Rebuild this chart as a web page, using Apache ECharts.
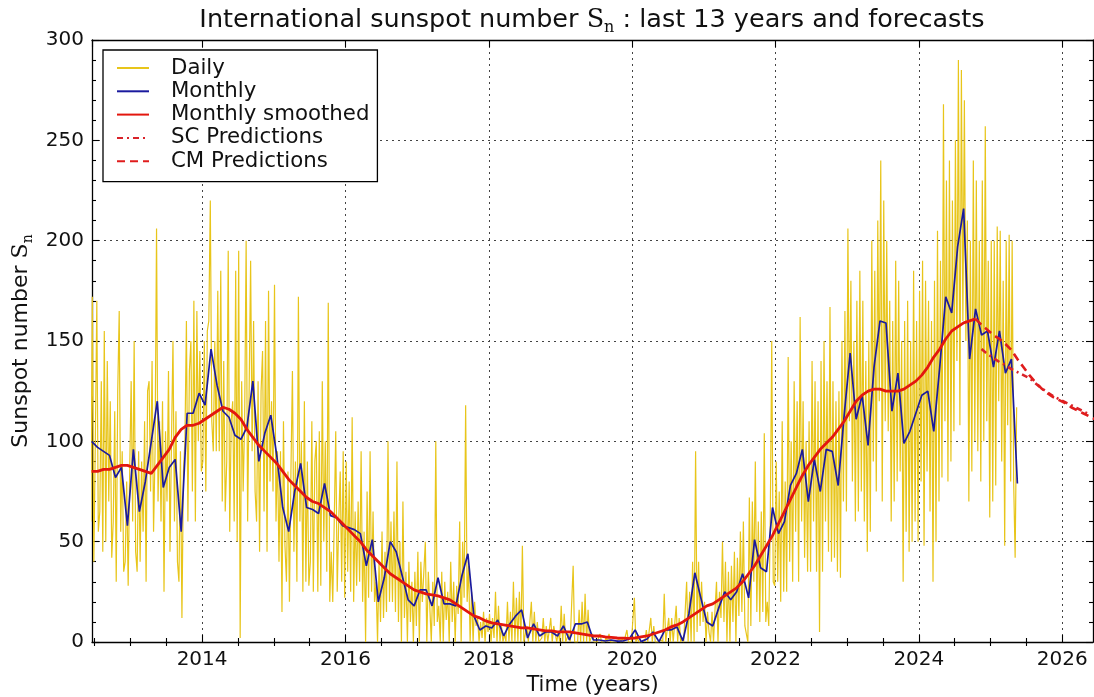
<!DOCTYPE html>
<html>
<head>
<meta charset="utf-8">
<script src="https://cdn.jsdelivr.net/npm/echarts@6/dist/echarts.min.js"></script>
<style>
  html, body { margin: 0; padding: 0; background: #fff; }
  #chart { width: 1094px; height: 697px; }
</style>
</head>
<body>
<div id="chart"></div>
<script>
// International sunspot number: daily, monthly mean, 13-month smoothed and forecasts.
// All series are indexed by month, starting June 2012.
const FIRST_YEAR = 2012;
const FIRST_MONTH = 6;

// Daily values, four samples per month (last month partial)
const dailyByMonth = [
  // 2012 Jun-Dec
  [148, 60, 172, 40], [100, 170, 55, 65], [130, 45, 155, 50], [140, 70, 120, 42],
  [60, 115, 30, 125], [165, 55, 95, 35], [40, 80, 28, 85],
  // 2013
  [130, 60, 150, 45], [35, 95, 40, 90], [55, 110, 30, 125], [130, 75, 140, 55],
  [95, 206, 70, 110], [60, 120, 25, 105], [70, 135, 45, 100], [150, 60, 115, 40],
  [30, 95, 12, 85], [100, 160, 60, 135], [150, 75, 170, 60], [165, 100, 145, 85],
  // 2014
  [90, 150, 75, 155], [160, 220, 110, 95], [150, 95, 175, 95], [185, 70, 140, 65],
  [90, 195, 55, 110], [120, 60, 185, 50], [195, 2, 130, 75], [110, 200, 60, 60],
  [190, 95, 160, 75], [60, 130, 45, 125], [145, 65, 160, 45], [175, 80, 120, 75],
  // 2015
  [178, 60, 95, 40], [95, 15, 110, 48], [30, 85, 20, 85], [135, 45, 90, 30],
  [172, 60, 100, 25], [120, 30, 90, 28], [40, 110, 25, 90], [100, 25, 105, 28],
  [130, 50, 100, 35], [169, 20, 45, 20], [60, 105, 25, 60], [85, 30, 95, 22],
  // 2016
  [90, 35, 80, 25], [112, 20, 65, 28], [70, 30, 95, 20], [55, 0, 75, 22],
  [95, 25, 65, 20], [30, 0, 40, 10], [55, 12, 45, 15], [100, 20, 60, 20],
  [65, 15, 90, 10], [50, 0, 70, 12], [35, 0, 40, 10], [30, 0, 35, 8],
  // 2017
  [45, 0, 40, 20], [20, 50, 0, 35], [35, 0, 30, 8], [100, 10, 18, 0],
  [35, 0, 30, 11], [25, 0, 40, 10], [30, 0, 28, 14], [60, 0, 50, 22],
  [118, 20, 38, 0], [25, 0, 20, 8], [12, 0, 10, 2], [15, 0, 12, 5],
  // 2018
  [14, 0, 12, 2], [25, 0, 18, 0], [8, 0, 4, 0], [20, 0, 15, 0],
  [30, 0, 22, 0], [25, 0, 48, 0], [0, 8, 0, 0], [20, 0, 15, 0],
  [10, 0, 0, 2], [12, 0, 8, 0], [0, 12, 0, 8], [8, 0, 5, 0],
  // 2019
  [18, 0, 14, 0], [0, 4, 0, 0], [38, 0, 0, 0], [16, 0, 20, 0],
  [24, 0, 16, 0], [0, 4, 0, 0], [0, 0, 4, 0], [0, 0, 2, 0],
  [4, 0, 0, 0], [0, 0, 0, 2], [0, 2, 0, 0], [6, 0, 0, 0],
  // 2020
  [0, 22, 0, 2], [0, 0, 0, 1], [0, 6, 0, 0], [12, 0, 8, 0],
  [0, 0, 0, 1], [0, 24, 0, 0], [12, 0, 12, 0], [0, 18, 0, 12],
  [0, 2, 0, 0], [30, 0, 25, 0], [40, 0, 95, 5], [40, 8, 30, 10],
  // 2021
  [20, 0, 15, 5], [0, 15, 0, 16], [30, 0, 25, 12], [50, 10, 40, 0],
  [35, 0, 38, 10], [45, 0, 42, 13], [55, 15, 60, 8], [8, 0, 72, 8],
  [70, 30, 90, 15], [60, 10, 65, 15], [104, 10, 20, 8], [60, 150, 30, 28],
  // 2022
  [90, 30, 75, 20], [110, 25, 80, 25], [142, 40, 100, 30], [130, 55, 120, 30],
  [162, 60, 120, 42], [100, 35, 110, 35], [140, 60, 130, 35], [120, 5, 140, 35],
  [150, 60, 130, 45], [167, 40, 130, 42], [120, 35, 125, 32], [150, 70, 165, 65],
  // 2023
  [206, 110, 180, 80], [150, 60, 170, 65], [185, 75, 170, 60], [140, 45, 150, 55],
  [200, 90, 185, 75], [210, 120, 240, 70], [220, 110, 200, 105], [170, 60, 160, 70],
  [190, 80, 180, 85], [150, 30, 160, 55], [170, 45, 150, 50], [185, 60, 160, 50],
  // 2024
  [175, 80, 190, 48], [180, 85, 170, 65], [160, 30, 180, 50], [205, 70, 190, 82],
  [268, 110, 230, 80], [240, 90, 220, 105], [250, 140, 290, 108], [285, 160, 270, 150],
  [210, 70, 200, 85], [240, 100, 230, 95], [200, 80, 230, 100], [257, 110, 190, 62],
  // 2025 Jan-May
  [200, 70, 200, 78], [207, 120, 205, 90], [180, 48, 200, 108], [203, 80, 200, 80],
  [42, 117]
];

// Monthly mean values
const monthlyValues = [
  100, 97, 95, 93, 82, 87, 58,
  96, 65, 80, 100, 120, 77, 87, 91, 55, 114, 114, 124,
  118, 146, 128, 115, 112, 103, 101, 107, 130, 90, 104, 113,
  93, 67, 55, 75, 89, 67, 66, 64, 79, 63, 62, 58,
  57, 56, 54, 38, 51, 20, 32, 50, 45, 33, 21, 18,
  26, 26, 18, 32, 19, 19, 18, 33, 44, 13, 6, 8,
  7, 11, 3, 9, 13, 16, 2, 9, 3, 5, 5, 3,
  8, 1, 9, 9, 10, 1, 1, 0.5, 1, 0.4, 0.5, 1.5,
  6, 0.2, 1.5, 5, 0.2, 6, 6, 7.5, 0.6, 14, 34.5, 22,
  10, 8, 17, 25, 21, 25, 34, 22, 51, 37, 35, 67,
  54, 60, 78, 84, 96, 70, 91, 75, 96, 95, 78, 113,
  144, 111, 123, 98, 137, 160, 159, 115, 134, 99, 105, 114,
  123, 125, 105, 137, 172, 164, 197, 216, 141, 166, 153, 155,
  137, 155, 134, 141, 79
];

// 13-month smoothed values (June 2012 - October 2024)
const smoothedValues = [
  85, 85, 86, 86, 87, 88, 88,
  87, 86, 85, 84, 88, 92, 96, 102, 106, 108, 108, 109,
  111, 113, 115, 117, 116, 114, 111, 106, 102, 98, 95, 92,
  89, 85, 81, 78, 75, 72, 70, 69, 67, 65, 62, 59,
  56, 53, 50, 46, 43, 40, 37, 34, 32, 30, 28, 26,
  25, 24, 23.5, 23, 22, 21, 19, 17, 15, 13, 12, 10.5,
  9.5, 9, 8.5, 8, 7.5, 7, 7, 6.5, 6, 5.5, 5.5, 5,
  5, 5, 4.5, 4, 3.5, 3, 3, 2.5, 2.3, 2, 1.9, 1.8,
  2, 2.5, 3, 4, 5, 6, 7.5, 8.5, 10, 12, 14, 16,
  18, 19, 21, 23, 25, 27, 30, 34, 38, 43, 48, 53,
  59, 65, 71, 77, 83, 88, 92, 96, 99, 102, 106, 110,
  115, 120, 123, 125, 126, 126, 125, 125, 125, 126, 128, 130,
  133, 137, 142, 146, 151, 155, 157, 159, 160, 161
];

// Forecasts (month offsets from June 2012)
const scStartMonth = 149; // November 2024
const scValues = [146, 143.5, 141.5, 139.5, 138, 136, 134.5, 133, 131.5, 129, 126.5,
  124.5, 122.5, 121, 119.5, 118, 116.5, 115, 113.5];
const cmStartMonth = 148; // October 2024
const cmValues = [161, 158, 155.5, 153, 151, 148.5, 145.5, 141, 137, 133, 129.5, 126.5,
  124, 122, 120.5, 119, 117, 115.5, 114, 112.5, 111];

const xMin = 2012.464;
const xMax = 2026.43;
const yTicks = { min: 0, max: 300, step: 50 };

function monthToYear(index, fraction) {
  return FIRST_YEAR + (FIRST_MONTH - 1 + index + fraction) / 12;
}

const dailyData = [];
dailyByMonth.forEach((vals, i) => {
  vals.forEach((v, k) => dailyData.push([monthToYear(i, (k + 0.5) / 4), v]));
});
const monthlyData = monthlyValues.map((v, i) => [monthToYear(i, 0.5), v]);
const smoothedData = smoothedValues.map((v, i) => [monthToYear(i, 0.5), v]);
const scData = scValues.map((v, j) => [monthToYear(scStartMonth + j, 0.5), v]);
const cmData = cmValues.map((v, j) => [monthToYear(cmStartMonth + j, 0.5), v]);

// half-year minor tick positions (major ticks sit on even years)
const minorTickYears = [];
for (let t = 2012.5; t <= 2026.0; t += 0.5) {
  if (t % 2 !== 0) minorTickYears.push(t);
}

const FONT = 'DejaVu Sans';
const INK = '#111';
const frameLine = { color: '#000', width: 1.3 };
const tickLine = { color: '#000', width: 1.1 };
const gridDots = { color: '#444', width: 1, type: [2, 4] };

const subRich = {
  s: { fontFamily: 'DejaVu Serif', fontSize: 25.5, lineHeight: 32, color: INK },
  n: { fontFamily: 'DejaVu Serif', fontSize: 16, lineHeight: 14, verticalAlign: 'bottom', color: INK }
};
const subRichSmall = {
  s: { fontFamily: 'DejaVu Serif', fontSize: 22, lineHeight: 28, color: INK },
  n: { fontFamily: 'DejaVu Serif', fontSize: 14, lineHeight: 12, verticalAlign: 'bottom', color: INK }
};

const chart = echarts.init(document.getElementById('chart'), null, { renderer: 'canvas' });

const minorAxis = (position) => ({
  type: 'value', min: xMin, max: xMax, position,
  axisLine: { show: false },
  axisLabel: { show: false },
  splitLine: { show: false },
  axisTick: { show: true, inside: true, length: 4, customValues: minorTickYears, lineStyle: tickLine }
});

chart.setOption({
  animation: false,
  backgroundColor: '#fff',
  title: {
    left: 592,
    top: 4,
    padding: 0,
    textAlign: 'center',
    text: 'International sunspot number {s|S}{n|n} : last 13 years and forecasts',
    textStyle: { fontFamily: FONT, fontSize: 25.5, fontWeight: 'normal', color: INK, lineHeight: 32, rich: subRich }
  },
  grid: { left: 92, right: 1, top: 40, bottom: 55, containLabel: false, outerBoundsMode: 'none' },
  legend: {
    orient: 'vertical',
    left: 103,
    top: 50,
    padding: [7.5, 8, 10, 13],
    backgroundColor: '#fff',
    borderColor: '#000',
    borderWidth: 1.3,
    borderRadius: 0,
    itemWidth: 32,
    itemHeight: 14,
    itemGap: 2.3,
    selectedMode: false,
    itemStyle: { opacity: 0 },
    textStyle: { fontFamily: FONT, fontSize: 21.3, color: INK, lineHeight: 21, padding: [0, 0, 0, 17] },
    data: ['Daily', 'Monthly', 'Monthly smoothed', 'SC Predictions', 'CM Predictions']
  },
  xAxis: [
    {
      type: 'value', min: xMin, max: xMax, splitNumber: 7, position: 'bottom',
      name: 'Time (years)', nameLocation: 'middle', nameGap: 33,
      nameTextStyle: { fontFamily: FONT, fontSize: 21, color: INK },
      axisLine: { show: true, onZero: false, lineStyle: frameLine },
      axisTick: { show: true, inside: true, length: 7, lineStyle: tickLine },
      axisLabel: {
        fontFamily: FONT, fontSize: 20, color: INK, margin: 8,
        showMinLabel: false, showMaxLabel: false,
        formatter: (v) => String(v)
      },
      splitLine: { show: true, lineStyle: gridDots }
    },
    minorAxis('bottom'),
    {
      type: 'value', min: xMin, max: xMax, splitNumber: 7, position: 'top',
      axisLine: { show: true, onZero: false, lineStyle: frameLine },
      axisTick: { show: true, inside: true, length: 7, lineStyle: tickLine },
      axisLabel: { show: false },
      splitLine: { show: false }
    },
    minorAxis('top')
  ],
  yAxis: [
    {
      type: 'value', min: yTicks.min, max: yTicks.max, interval: yTicks.step, position: 'left',
      name: 'Sunspot number {s|S}{n|n}', nameLocation: 'middle', nameGap: 56, nameRotate: 90,
      nameTextStyle: { fontFamily: FONT, fontSize: 22, color: INK, lineHeight: 28, rich: subRichSmall },
      axisLine: { show: true, onZero: false, lineStyle: frameLine },
      axisTick: { show: true, inside: true, length: 7, lineStyle: tickLine },
      minorTick: { show: true, splitNumber: 5, length: 4, lineStyle: tickLine },
      axisLabel: { fontFamily: FONT, fontSize: 20, color: INK, margin: 8 },
      splitLine: { show: true, lineStyle: gridDots }
    },
    {
      type: 'value', min: yTicks.min, max: yTicks.max, interval: yTicks.step, position: 'right',
      axisLine: { show: true, onZero: false, lineStyle: frameLine },
      axisTick: { show: true, inside: true, length: 7, lineStyle: tickLine },
      minorTick: { show: true, splitNumber: 5, length: 4, lineStyle: tickLine },
      axisLabel: { show: false },
      splitLine: { show: false }
    }
  ],
  series: [
    {
      name: 'Daily', type: 'line', data: dailyData, symbol: 'none', z: 1,
      lineStyle: { color: '#e8c51a', width: 1.2 }, itemStyle: { color: '#e8c51a' }
    },
    {
      name: 'Monthly', type: 'line', data: monthlyData, symbol: 'none', z: 2,
      lineStyle: { color: '#1a1a9e', width: 1.7 }, itemStyle: { color: '#1a1a9e' }
    },
    {
      name: 'Monthly smoothed', type: 'line', data: smoothedData, symbol: 'none', z: 3,
      lineStyle: { color: '#e3170e', width: 2.8 }, itemStyle: { color: '#e3170e' }
    },
    {
      name: 'SC Predictions', type: 'line', data: scData, symbol: 'none', z: 4,
      lineStyle: { color: '#d9232a', width: 2.6, type: [6, 4, 2, 4] }, itemStyle: { color: '#d9232a' }
    },
    {
      name: 'CM Predictions', type: 'line', data: cmData, symbol: 'none', z: 4,
      lineStyle: { color: '#e01c1c', width: 2.6, type: [8, 5] }, itemStyle: { color: '#e01c1c' }
    }
  ]
});
</script>
</body>
</html>
